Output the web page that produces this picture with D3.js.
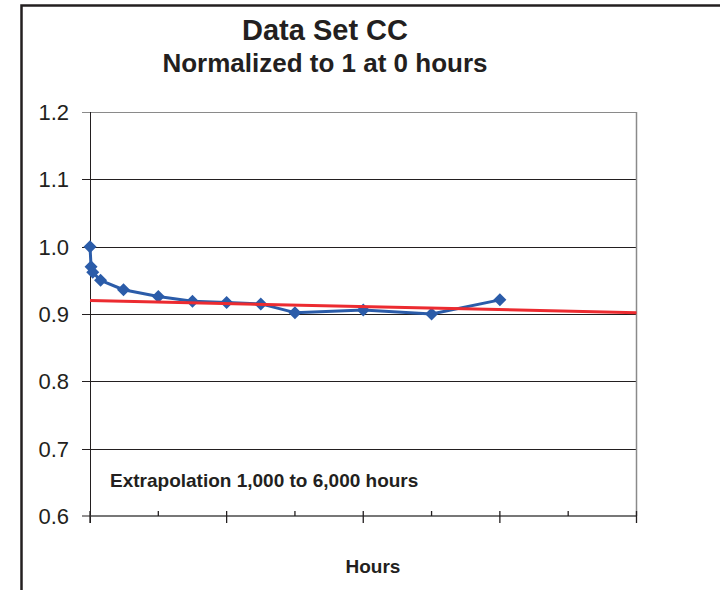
<!DOCTYPE html>
<html>
<head>
<meta charset="utf-8">
<script src="https://cdn.jsdelivr.net/npm/d3@7"></script>
<style>
  body { margin: 0; background: #fff; }
  text { font-family: "Liberation Sans", Arial, sans-serif; fill: #231f20; }
</style>
</head>
<body>
<div id="chart"></div>
<script>
// measured data (hours vs normalized value)
var hours  = [0, 16, 40, 155, 490, 1000, 1500, 2000, 2500, 3000, 4000, 5000, 6000];
var values = [1.000, 0.970, 0.962, 0.950, 0.936, 0.926, 0.919, 0.917, 0.915, 0.902, 0.906, 0.900, 0.921];

// extrapolated fit line
var fitHours  = [0, 8000];
var fitValues = [0.920, 0.902];

var yTicks = [0.6, 0.7, 0.8, 0.9, 1.0, 1.1, 1.2];
var xMajor = [0, 2000, 4000, 6000, 8000];
var xMinor = [1000, 3000, 5000, 7000];

var W = 720, H = 590;
var margin = {top: 112, left: 90, right: 83.5, bottom: 74},
    width  = W - margin.left - margin.right,
    height = H - margin.top - margin.bottom;

var svg = d3.select("#chart").append("svg")
    .attr("width", W)
    .attr("height", H);

// outer chart border (runs off the right/bottom edge)
svg.append("rect")
    .attr("x", 21.5).attr("y", 5.5)
    .attr("width", 800).attr("height", 700)
    .attr("fill", "none")
    .attr("stroke", "#231f20")
    .attr("stroke-width", 2.5);

svg.append("text")
    .attr("x", 325).attr("y", 40)
    .attr("text-anchor", "middle")
    .attr("font-size", 29).attr("font-weight", "bold")
    .text("Data Set CC");

svg.append("text")
    .attr("x", 325).attr("y", 72)
    .attr("text-anchor", "middle")
    .attr("font-size", 26).attr("font-weight", "bold")
    .text("Normalized to 1 at 0 hours");

var g = svg.append("g").attr("transform", "translate(" + margin.left + "," + margin.top + ")");

var x = d3.scaleLinear().domain([0, 8000]).range([0, width]),
    y = d3.scaleLinear().domain([0.6, 1.2]).range([height, 0]);

// gridlines
g.selectAll(".grid").data(yTicks.filter(function(d){ return d > 0.6; })).enter()
  .append("line")
    .attr("class", "grid")
    .attr("x1", -8).attr("x2", width)
    .attr("y1", function(d){ return Math.round(y(d)) + 0.5; })
    .attr("y2", function(d){ return Math.round(y(d)) + 0.5; })
    .attr("stroke", function(d){ return d === 1.2 ? "#8a8a8a" : "#231f20"; })
    .attr("stroke-width", 1);

// right border of plot
g.append("line")
    .attr("x1", width).attr("x2", width)
    .attr("y1", y(1.2)).attr("y2", height)
    .attr("stroke", "#8a8a8a").attr("stroke-width", 1.5);

// y axis
g.append("line")
    .attr("x1", 0.5).attr("x2", 0.5)
    .attr("y1", y(1.2)).attr("y2", height + 7)
    .attr("stroke", "#231f20");

g.append("line")
    .attr("x1", -8).attr("x2", 0)
    .attr("y1", height).attr("y2", height)
    .attr("stroke", "#231f20");

g.selectAll(".ylab").data(yTicks).enter()
  .append("text")
    .attr("class", "ylab")
    .attr("x", -21)
    .attr("y", function(d){ return y(d); })
    .attr("dy", "0.36em")
    .attr("text-anchor", "end")
    .attr("font-size", 22)
    .text(function(d){ return d.toFixed(1); });

// x axis
g.append("line")
    .attr("x1", 0).attr("x2", width)
    .attr("y1", height).attr("y2", height)
    .attr("stroke", "#4a4a4a").attr("stroke-width", 1.6);

g.selectAll(".xmaj").data(xMajor).enter()
  .append("line")
    .attr("x1", function(d){ return x(d); })
    .attr("x2", function(d){ return x(d); })
    .attr("y1", height - 5).attr("y2", height + 7)
    .attr("stroke", "#231f20").attr("stroke-width", 1.3);

g.selectAll(".xmin").data(xMinor).enter()
  .append("line")
    .attr("x1", function(d){ return x(d); })
    .attr("x2", function(d){ return x(d); })
    .attr("y1", height - 5).attr("y2", height)
    .attr("stroke", "#231f20").attr("stroke-width", 1.3);

// data line
var pts = hours.map(function(h, i){ return [h, values[i]]; });
var line = d3.line()
    .x(function(d){ return x(d[0]); })
    .y(function(d){ return y(d[1]); });

g.append("path")
    .datum(pts)
    .attr("fill", "none")
    .attr("stroke", "#2b5ca9")
    .attr("stroke-width", 3)
    .attr("stroke-linejoin", "round")
    .attr("d", line);

g.selectAll(".pt").data(pts).enter()
  .append("path")
    .attr("class", "pt")
    .attr("transform", function(d){ return "translate(" + x(d[0]) + "," + y(d[1]) + ")"; })
    .attr("d", "M0,-6.5L6.5,0L0,6.5L-6.5,0Z")
    .attr("fill", "#2b5ca9");

// fit line
g.append("path")
    .datum(fitHours.map(function(h, i){ return [h, fitValues[i]]; }))
    .attr("fill", "none")
    .attr("stroke", "#ec2b30")
    .attr("stroke-width", 3)
    .attr("d", line);

g.append("text")
    .attr("x", 20).attr("y", 487 - margin.top)
    .attr("font-size", 19).attr("font-weight", "bold")
    .text("Extrapolation 1,000 to 6,000 hours");

svg.append("text")
    .attr("x", 373).attr("y", 573)
    .attr("text-anchor", "middle")
    .attr("font-size", 19).attr("font-weight", "bold")
    .text("Hours");
</script>
</body>
</html>
